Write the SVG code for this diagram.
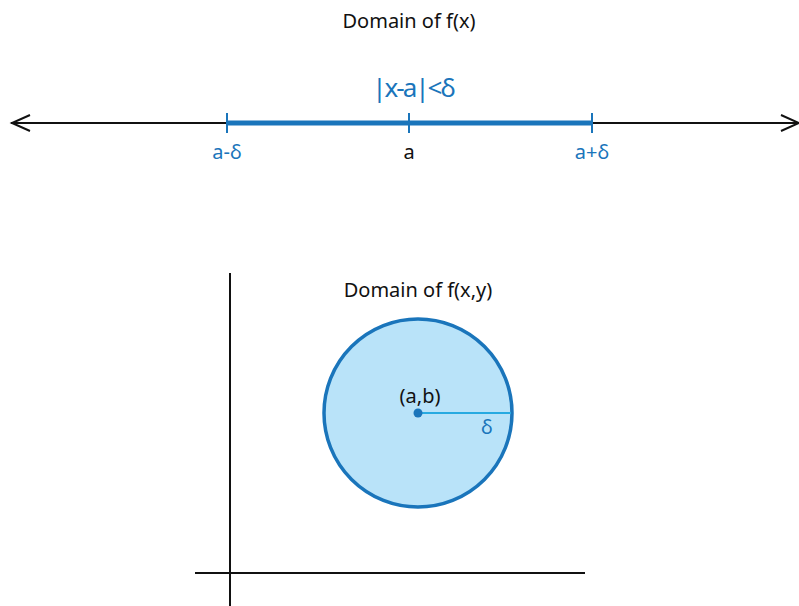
<svg xmlns="http://www.w3.org/2000/svg" width="799" height="606" viewBox="0 0 799 606">
<style>
text{font-family:"Noto Sans","Liberation Sans",sans-serif;}
.blk{fill:#111;text-anchor:middle;}
.blu{fill:#1a75bb;text-anchor:middle;}
.ax{stroke:#111;stroke-width:2;fill:none;}
</style>
<rect width="799" height="606" fill="#fff"/>
<g id="title1"><text class="blk" x="409" y="28" font-size="20">Domain of f(x)</text></g>
<g id="numberline">
<line class="ax" x1="11" y1="123" x2="798" y2="123"/>
<polyline class="ax" points="30,115 12,123 30,131"/>
<polyline class="ax" points="781,115 799,123 781,131"/>
<line x1="227" y1="123" x2="592" y2="123" stroke="#1a75bb" stroke-width="5"/>
<g stroke="#1a75bb" stroke-width="2">
<line x1="227" y1="113" x2="227" y2="133"/>
<line x1="409" y1="113" x2="409" y2="133"/>
<line x1="592" y1="113" x2="592" y2="133"/>
</g>
</g>
<g id="label-interval"><text class="blu" x="413" y="97" font-size="26" letter-spacing="-2">|x-a|&lt;δ</text></g>
<g id="label-amd"><text class="blu" x="227" y="159" font-size="20">a-δ</text></g>
<g id="label-a"><text class="blk" x="409" y="159" font-size="20">a</text></g>
<g id="label-apd"><text class="blu" x="592" y="159" font-size="20">a+δ</text></g>
<g id="axes">
<line class="ax" x1="230" y1="273" x2="230" y2="606"/>
<line class="ax" x1="195" y1="573" x2="585" y2="573"/>
</g>
<g id="title2"><text class="blk" x="418" y="297" font-size="20">Domain of f(x,y)</text></g>
<g id="disk">
<circle cx="418" cy="413" r="94" fill="#b9e3f9" stroke="#1a75bb" stroke-width="3.5"/>
<line x1="418" y1="413" x2="511" y2="413" stroke="#27aae1" stroke-width="2"/>
<circle cx="418" cy="413" r="4.5" fill="#1a75bb"/>
<text class="blk" x="420" y="403" font-size="20">(a,b)</text>
<text class="blu" x="487" y="434" font-size="20">δ</text>
</g>
</svg>
